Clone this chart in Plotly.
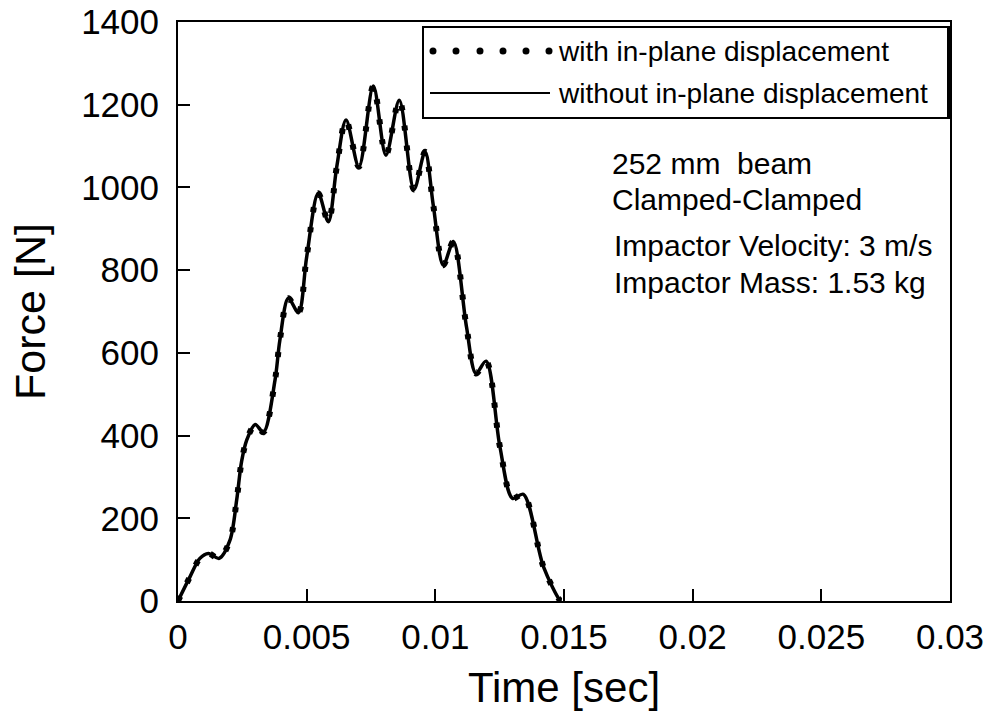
import plotly.graph_objects as go

# ---- data ----
time_s = [0.0, 0.00047, 0.00085, 0.00118, 0.0016, 0.00202, 0.00228, 0.00247,
          0.00267, 0.0030, 0.00332, 0.00377, 0.00396, 0.00429, 0.00468, 0.0050,
          0.00545, 0.00584, 0.00617, 0.00653, 0.00703, 0.00759, 0.00808, 0.0086,
          0.00917, 0.0096, 0.00992, 0.01031, 0.0107, 0.01121, 0.01158, 0.01197,
          0.01251, 0.0130, 0.01342, 0.0142, 0.01484, 0.0149]
force_with = [0, 59, 103, 115, 103, 147, 244, 337,
              389, 427, 408, 534, 631, 732, 697, 832,
              986, 917, 1050, 1163, 1050, 1245, 1078, 1211,
              995, 1086, 957, 812, 869, 663, 550, 580,
              373, 248, 258, 83, 2, 0]
force_without = [0, 59, 103, 115, 103, 147, 244, 337,
                 389, 427, 408, 534, 631, 732, 697, 832,
                 986, 917, 1050, 1163, 1050, 1245, 1078, 1211,
                 995, 1086, 957, 812, 869, 663, 550, 580,
                 373, 248, 258, 83, 2, 0]
x_ticks = [0, 0.005, 0.01, 0.015, 0.02, 0.025, 0.03]
x_tick_text = ["0", "0.005", "0.01", "0.015", "0.02", "0.025", "0.03"]
y_ticks = [0, 200, 400, 600, 800, 1000, 1200, 1400]
legend_labels = ["with in-plane displacement", "without in-plane displacement"]
notes = ["252 mm  beam", "Clamped-Clamped", "Impactor Velocity: 3 m/s", "Impactor Mass: 1.53 kg"]

FONT = "Liberation Sans, Arial, Helvetica, sans-serif"
L, R, T, B = 178, 42, 22, 122
W, H = 992, 723
PW, PH = W - L - R, H - T - B

def px(xp):
    return (xp - L) / PW

def py(yp):
    return (H - B - yp) / PH

fig = go.Figure()
fig.add_trace(go.Scatter(x=time_s, y=force_without, mode="lines", name=legend_labels[1],
                         line=dict(color="black", width=3.5, shape="spline", smoothing=0.9)))
fig.add_trace(go.Scatter(x=time_s, y=force_with, mode="lines", name=legend_labels[0],
                         line=dict(color="black", width=6, shape="spline", smoothing=0.9,
                                   dash="5px,15px")))

shapes = [
    dict(type="rect", xref="paper", yref="paper", x0=px(423), x1=px(949), y0=py(118), y1=py(27),
         line=dict(color="black", width=2), fillcolor="white", layer="below"),
    dict(type="line", xref="paper", yref="paper", x0=px(949), x1=px(949), y0=py(118), y1=py(27),
         line=dict(color="black", width=4)),
    dict(type="line", xref="paper", yref="paper", x0=px(430), x1=px(550), y0=py(93), y1=py(93),
         line=dict(color="black", width=2)),
]
# legend sample for the dotted series: six round dots
for dx in (433, 456, 480, 503, 526, 549):
    shapes.append(dict(type="circle", xref="paper", yref="paper",
                       x0=px(dx - 3.5), x1=px(dx + 3.5), y0=py(54.5), y1=py(47.5),
                       line=dict(width=0), fillcolor="black"))

annotations = [
    dict(xref="paper", yref="paper", x=px(556), y=py(51), text=legend_labels[0],
         showarrow=False, xanchor="left", yanchor="middle",
         font=dict(family=FONT, size=28, color="black")),
    dict(xref="paper", yref="paper", x=px(556), y=py(93), text=legend_labels[1],
         showarrow=False, xanchor="left", yanchor="middle",
         font=dict(family=FONT, size=28, color="black")),
]
note_pos = [(610, 163), (610, 199), (612, 245), (612, 282)]
for txt, (xx, yy) in zip(notes, note_pos):
    annotations.append(dict(xref="paper", yref="paper", x=px(xx), y=py(yy), text=txt,
                            showarrow=False, xanchor="left", yanchor="middle",
                            font=dict(family=FONT, size=30, color="black")))

fig.update_layout(
    width=W, height=H,
    margin=dict(l=L, r=R, t=T, b=B, autoexpand=False),
    paper_bgcolor="white", plot_bgcolor="white",
    showlegend=False,
    font=dict(family=FONT, color="black"),
    shapes=shapes, annotations=annotations,
    xaxis=dict(range=[0, 0.03], tickvals=x_ticks, ticktext=x_tick_text,
               ticks="inside", ticklen=12, tickwidth=2, tickcolor="black",
               showline=True, linecolor="black", linewidth=2, mirror=True,
               showgrid=False, zeroline=False, ticklabelstandoff=4,
               tickfont=dict(family=FONT, size=35, color="black"),
               title=dict(text="Time [sec]", font=dict(family=FONT, size=42, color="black"),
                          standoff=18)),
    yaxis=dict(range=[0, 1400], tickvals=y_ticks,
               ticks="inside", ticklen=12, tickwidth=2, tickcolor="black",
               showline=True, linecolor="black", linewidth=2, mirror=True,
               showgrid=False, zeroline=False, ticklabelstandoff=10,
               tickfont=dict(family=FONT, size=35, color="black"),
               title=dict(text="Force [N]", font=dict(family=FONT, size=43, color="black"),
                          standoff=22)),
)

fig.write_html("out.html")
